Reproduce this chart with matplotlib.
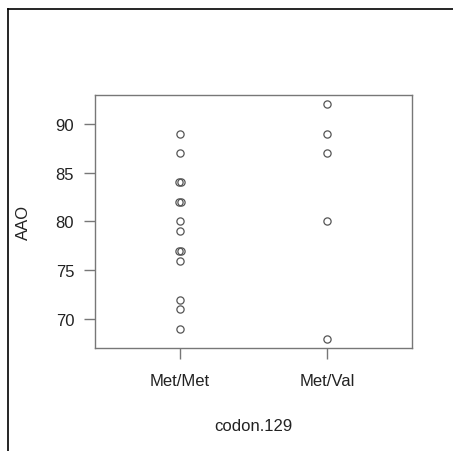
import numpy as np
import matplotlib.pyplot as plt
from matplotlib.lines import Line2D

plt.rcParams['font.family'] = ['Liberation Sans', 'DejaVu Sans']

groups = ["Met/Met", "Met/Val"]
aao_met_met = [89, 87, 84, 84, 82, 82, 80, 79, 77, 77, 76, 72, 71, 69]
aao_met_val = [92, 89, 87, 80, 68]
y_ticks = [70, 75, 80, 85, 90]

fig = plt.figure(figsize=(4.53, 4.52), dpi=100)
ax = fig.add_axes([0.2097, 0.2279, 0.6998, 0.5597])

for i, vals in enumerate([aao_met_met, aao_met_val]):
    vals = np.array(vals, dtype=float)
    x = np.full(len(vals), i + 1.0)
    # tiny horizontal offset for tied values, like in the original
    for v in np.unique(vals):
        idx = np.where(vals == v)[0]
        if len(idx) > 1:
            x[idx] += np.linspace(-0.007, 0.007, len(idx))
    ax.plot(x, vals, linestyle='none', marker='o', markersize=5.2,
            markerfacecolor='none', markeredgecolor='#555555', markeredgewidth=0.9)

ax.set_xlim(0.42, 2.58)
ax.set_ylim(67.04, 92.96)
ax.set_xticks([1, 2])
ax.set_xticklabels(groups)
ax.set_yticks(y_ticks)
ax.tick_params(colors='#777777', labelcolor='#222222', length=8, width=1,
               labelsize=12)
ax.tick_params(axis='x', pad=10)
ax.tick_params(axis='y', pad=7)
for s in ax.spines.values():
    s.set_color('#777777')
    s.set_linewidth(1)

ax.set_xlabel("codon.129", fontsize=12, color='#222222', labelpad=21.5)
ax.set_ylabel("AAO", fontsize=12, color='#222222', labelpad=18)

# outer frame (top and left edges)
fig.add_artist(Line2D([8 / 453, 1.0], [1 - 10 / 452, 1 - 10 / 452],
                      transform=fig.transFigure, color='black', linewidth=1.2))
fig.add_artist(Line2D([8 / 453, 8 / 453], [0.0, 1 - 10 / 452],
                      transform=fig.transFigure, color='black', linewidth=1.2))

fig.savefig("out.png", dpi=100)
